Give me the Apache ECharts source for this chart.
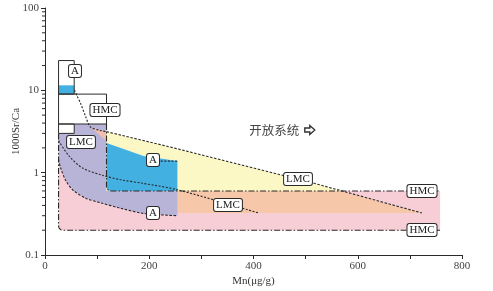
<!DOCTYPE html>
<html><head><meta charset="utf-8">
<script src="https://cdn.jsdelivr.net/npm/echarts@6/dist/echarts.min.js"></script>
<style>html,body{margin:0;padding:0;background:#fff}#c{width:493px;height:291px}</style>
</head><body><div id="c"></div>
<script>
// ---- axis ticks ----
const xTickLabels = [0, 200, 400, 600, 800];
const yTickLabels = [0.1, 1, 10, 100];
const yMinorTicks = [0.2,0.3,0.4,0.5,0.6,0.7,0.8,0.9,2,3,4,5,6,7,8,9,20,30,40,50,60,70,80,90];

// ---- fields (Mn µg/g, 1000Sr/Ca) ----
const pinkField     = [[26,1.6],[26,0.2],[758,0.2],[758,0.6],[118,0.6],[118,1.6]];
const lavenderField = [[26,2.4],[26,3.0],[56,3.0],[56,3.9],[118,3.9],[118,0.6],[254,0.6],[254,0.3],[189,0.32],[145,0.37],[107,0.43],[78,0.49],[53,0.62],[40,0.8],[30,1.14],[26,1.45]];
const salmonField   = [[87,3.6],[106,3.25],[118,3.15],[118,2.43]];
const yellowField   = [[118,3.15],[240,2.05],[514,0.75],[566,0.6],[118,0.6]];
const peachField    = [[254,0.6],[566,0.6],[723,0.324],[254,0.324]];
const blueField     = [[118,2.29],[189,1.59],[254,1.39],[254,0.6],[118,0.6]];
const blueBand      = [[26,9],[56,9],[56,11.5],[26,11.5]];

// ---- boxes ----
const aRect   = [[26,9],[56,9],[56,23],[26,23]];
const hmcRect = [[26,3.9],[118,3.9],[118,9],[26,9]];
const lmcBox  = [[26,3.0],[56,3.0],[56,3.9],[26,3.9]];

// ---- boundary / trend lines ----
const hmcUpper   = [[118,3.9],[118,0.6],[758,0.6]];
const hmcLower   = [[26,3.0],[26,0.2],[758,0.2]];
const aCurve     = [[56.5,10.1],[62,8.4],[68,7.0],[78,4.8],[87,3.6],[106,3.25],[118,3.15]];
const lmcTrend1  = [[118,3.15],[240,2.05],[514,0.75],[723,0.324]];
const lmcTrend2  = [[26,2.45],[46,1.6],[72,1.14],[110,0.93],[145,0.82],[189,0.74],[254,0.62],[409,0.325]];
const lavBottom  = [[26,1.45],[30,1.14],[40,0.8],[53,0.62],[78,0.49],[107,0.43],[145,0.37],[189,0.32],[254,0.3]];
const aTopEdge   = [[222,1.38],[254,1.38]];

// ---- labels ----
const boxLabels = [
  [58.4,17.2,'A'],[116,5.85,'HMC'],[69,2.36,'LMC'],
  [208,1.43,'A'],[208,0.328,'A'],
  [486,0.837,'LMC'],[352,0.404,'LMC'],
  [723,0.6,'HMC'],[723,0.2,'HMC']
];
const openText  = [440, 3.3, '开放系统'];
const openArrow = [508, 3.3];

const INK = '#2a2a2a';
const SERIF = '"Liberation Serif", "Times New Roman", serif';

function norm(a, p){ const dx=a[0]-p[0], dy=a[1]-p[1]; const l=Math.hypot(dx,dy)||1; return [dx/l, dy/l]; }
function rounded(px, idxs, r){
  const out=[];
  px.forEach((p,i)=>{
    if(!idxs || idxs.indexOf(i)<0){ out.push(p); return; }
    const a=px[(i-1+px.length)%px.length], b=px[(i+1)%px.length];
    const da=norm(a,p), db=norm(b,p);
    const p1=[p[0]+da[0]*r,p[1]+da[1]*r], p2=[p[0]+db[0]*r,p[1]+db[1]*r];
    for(let k=0;k<=6;k++){ const t=k/6,u=1-t;
      out.push([u*u*p1[0]+2*u*t*p[0]+t*t*p2[0], u*u*p1[1]+2*u*t*p[1]+t*t*p2[1]]); }
  });
  return out;
}
function polySeries(pts, fill, roundIdx, z){
  return {type:'custom', silent:true, z:z, data:[pts[0]], clip:false,
    renderItem:(params, api)=>{
      const px = rounded(pts.map(p=>api.coord(p)), roundIdx, 5);
      return {type:'polygon', shape:{points:px}, style:{fill:fill, stroke:null}};
    }};
}
function outlineSeries(pts, z){
  return {type:'custom', silent:true, z:z, data:[pts[0]], clip:false,
    renderItem:(params, api)=>{
      const px = pts.map(p=>api.coord(p));
      return {type:'polygon', shape:{points:px}, style:{fill:null, stroke:INK, lineWidth:1}};
    }};
}
function lineSeries(pts, dash, smooth, roundIdx, z, width){
  return {type:'custom', silent:true, z:z, data:[pts[0]], clip:false,
    renderItem:(params, api)=>{
      const px = rounded(pts.map(p=>api.coord(p)), roundIdx, 5);
      return {type:'polyline', shape:{points:px, smooth:smooth||0},
        style:{fill:null, stroke:INK, lineWidth:width||1, lineDash:dash}};
    }};
}

const series = [
  polySeries(pinkField, '#f7cdd6', [1], 1),
  polySeries(peachField, '#f6c7a8', null, 2),
  polySeries(lavenderField, '#b8b4d7', null, 3),
  polySeries(salmonField, '#f1c0ad', null, 4),
  polySeries(yellowField, '#fbf8c6', null, 4),
  polySeries(blueField, '#43b0e2', [4], 5),
  polySeries(blueBand, '#43b0e2', null, 5),
  outlineSeries(aRect, 10),
  outlineSeries(hmcRect, 10),
  outlineSeries(lmcBox, 10),
  lineSeries(hmcUpper, [6,2,1.5,2], 0, [1], 11, 1.1),
  lineSeries(hmcLower, [6,2,1.5,2], 0, [1], 11, 1.1),
  lineSeries(aCurve, [2,1.6], 0.3, null, 11, 1.1),
  lineSeries(lmcTrend1, [2.5,1.6], 0, null, 11, 1.1),
  lineSeries(lmcTrend2, [2,1.6], 0.3, null, 11, 1.1),
  lineSeries(lavBottom, [2.5,1.6], 0.3, null, 11, 1.1),
  lineSeries(aTopEdge, [2,1.6], 0, null, 11, 1.1),
  // minor ticks on the log axis
  {type:'custom', silent:true, z:12, data:yMinorTicks.map(v=>[0,v]), clip:false,
    renderItem:(params, api)=>{
      const c = api.coord([0, api.value(1)]);
      return {type:'line', shape:{x1:c[0]-3, y1:c[1], x2:c[0], y2:c[1]}, style:{stroke:INK, lineWidth:1}};
    }},
  // boxed labels
  {type:'custom', silent:true, z:20, data:boxLabels, clip:false,
    renderItem:(params, api)=>{
      const d = boxLabels[params.dataIndex];
      const c = api.coord([d[0], d[1]]);
      return {type:'text', x:Math.round(c[0]), y:Math.round(c[1]), style:{text:d[2], font:'11px '+SERIF, fill:'#222',
        align:'center', verticalAlign:'middle', backgroundColor:'#fff', borderColor:INK, borderWidth:1,
        borderRadius:2, padding:[1,2,0,2], lineHeight:11}};
    }},
  {type:'custom', silent:true, z:20, data:[openText], clip:false,
    renderItem:(params, api)=>{
      const c = api.coord([openText[0], openText[1]]);
      return {type:'text', x:c[0], y:c[1], style:{text:openText[2], font:'12.5px "Noto Sans CJK SC"', fill:'#444', align:'center', verticalAlign:'middle'}};
    }},
  {type:'custom', silent:true, z:20, data:[openArrow], clip:false,
    renderItem:(params, api)=>{
      const c = api.coord(openArrow);
      const x=c[0]-5, y=c[1];
      return {type:'polygon', shape:{points:[[x,y-2],[x+5,y-2],[x+5,y-4.5],[x+10,y],[x+5,y+4.5],[x+5,y+2],[x,y+2]]},
        style:{fill:'#fff', stroke:'#333', lineWidth:1.4, lineJoin:'miter'}};
    }}
];

const option = {
  animation:false,
  grid:{left:45, right:31, top:8, bottom:36, containLabel:false, outerBoundsMode:'none'},
  xAxis:{type:'value', min:0, max:800, interval:100,
    name:'Mn(μg/g)', nameLocation:'middle', nameGap:21, nameMoveOverlap:false,
    nameTextStyle:{fontFamily:SERIF, fontSize:11, color:'#333'},
    axisLine:{show:true, lineStyle:{color:INK, width:1}},
    axisTick:{show:true, length:4, lineStyle:{color:INK}},
    axisLabel:{fontFamily:SERIF, fontSize:11, color:'#444', margin:6,
      formatter:v=> xTickLabels.indexOf(v)>=0 ? String(v) : ''},
    splitLine:{show:false}},
  yAxis:{type:'log', logBase:10, min:yTickLabels[0], max:yTickLabels[yTickLabels.length-1],
    name:'1000Sr/Ca', nameLocation:'middle', nameGap:23, nameRotate:90, nameMoveOverlap:false,
    nameTextStyle:{fontFamily:SERIF, fontSize:11, color:'#333'},
    axisLine:{show:true, lineStyle:{color:INK, width:1}},
    axisTick:{show:true, length:4, lineStyle:{color:INK}},
    minorTick:{show:false},
    axisLabel:{fontFamily:SERIF, fontSize:11, color:'#444', margin:6,
      formatter:v=> String(v)},
    splitLine:{show:false}},
  series:series
};
const chart = echarts.init(document.getElementById('c'));
chart.setOption(option);
</script></body></html>
